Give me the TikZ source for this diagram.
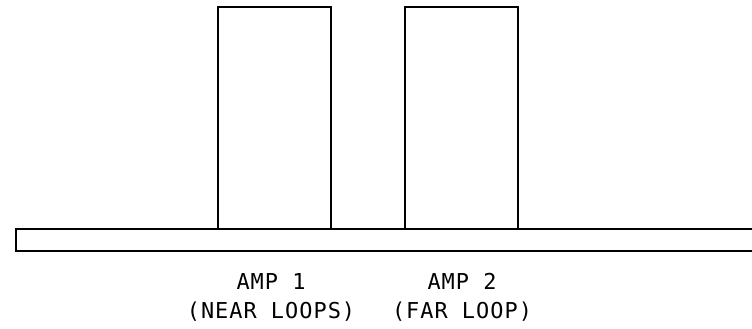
\documentclass[tikz,border=0pt]{standalone}
\usepackage{fontspec}
\setmonofont[LetterSpace=4.6]{DejaVu Sans Mono}
\begin{document}
\begin{tikzpicture}[x=1pt,y=-1pt,
  amp/.style={draw=black,line width=1.5pt,minimum width=113pt,minimum height=222pt,inner sep=0pt},
  lbl/.style={font=\ttfamily\fontsize{21.9}{22}\selectfont,inner sep=0pt,anchor=base}]
\useasboundingbox (0,0) rectangle (752,329);
\node[amp] (amp1) at (274.5,118) {};
\node[amp] (amp2) at (461.5,118) {};
\coordinate (barTR) at (753,229);
\coordinate (barBR) at (753,251);
\draw[line width=1.5pt] (barTR) -- (16,229) -- (16,251) -- (barBR);
\node[lbl] (t1) at (271,289) {AMP 1};
\node[lbl] (t2) at (271,318) {(NEAR LOOPS)};
\node[lbl] (t3) at (462,289) {AMP 2};
\node[lbl] (t4) at (462,318) {(FAR LOOP)};
\end{tikzpicture}
\end{document}
